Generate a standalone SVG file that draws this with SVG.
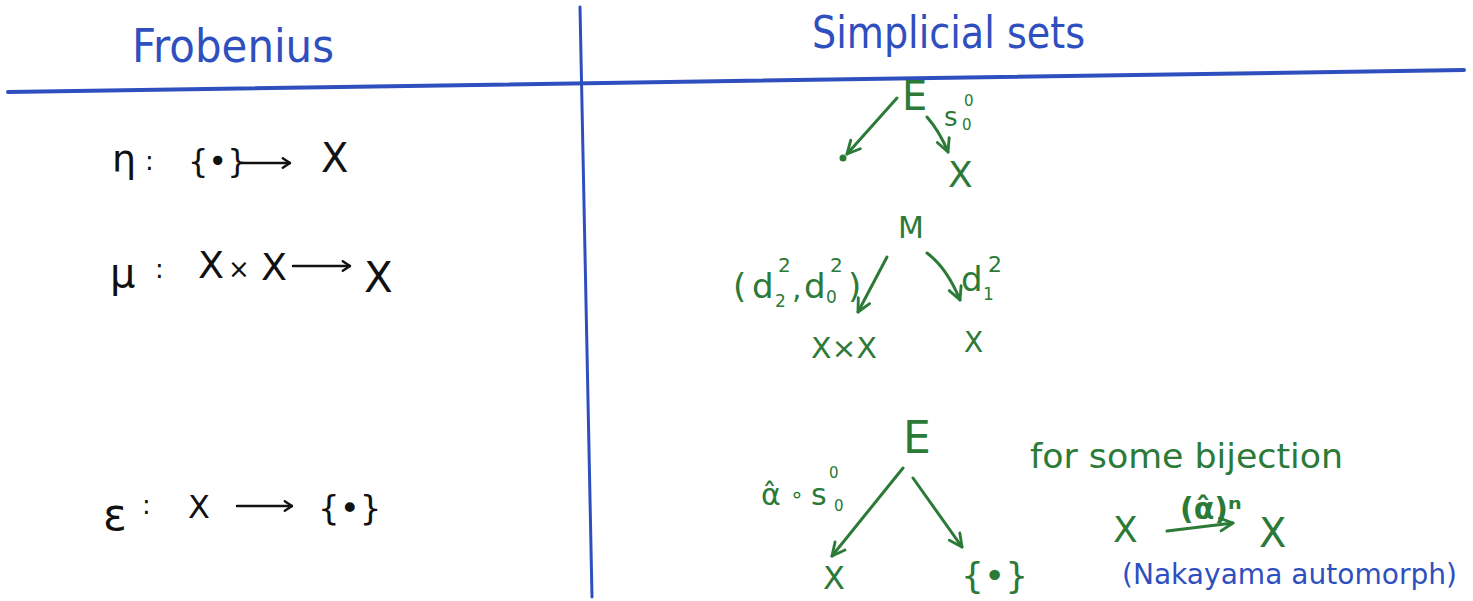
<svg xmlns="http://www.w3.org/2000/svg" width="1473" height="601" viewBox="0 0 1473 601">
<style>
  .bl { fill: #2f4fbf; font-family: "DejaVu Sans", "Liberation Sans", sans-serif; }
  .k { fill: #111111; font-family: "DejaVu Sans", "Liberation Sans", sans-serif; }
  .g { fill: #2b7a37; font-family: "DejaVu Sans", "Liberation Sans", sans-serif; }
  .rule { stroke: #2f4fbf; fill: none; stroke-linecap: round; }
  .cg { stroke: #2b7a37; stroke-width: 3; fill: none; stroke-linecap: round; }
  .ck { stroke: #111111; stroke-width: 2.5; fill: none; stroke-linecap: round; }
</style>
<defs>
  <marker id="ag" viewBox="0 0 10 10" refX="9" refY="5" markerWidth="16" markerHeight="16" markerUnits="userSpaceOnUse" orient="auto">
    <path d="M1,1 L9,5 L1,9" fill="none" stroke="#2b7a37" stroke-width="1.8" stroke-linecap="round" stroke-linejoin="round"/>
  </marker>
  <marker id="ak" viewBox="0 0 10 10" refX="9" refY="5" markerWidth="12" markerHeight="12" markerUnits="userSpaceOnUse" orient="auto">
    <path d="M3,1 L9,5 L3,9" fill="none" stroke="#111111" stroke-width="2" stroke-linecap="round" stroke-linejoin="round"/>
  </marker>
</defs>
<rect width="1473" height="601" fill="#ffffff"/>

<g id="table-rules">
  <line class="rule" x1="8" y1="92" x2="1464" y2="70" stroke-width="4"/>
  <line class="rule" x1="580" y1="7" x2="592" y2="597" stroke-width="3"/>
</g>

<g id="header-frobenius">
  <text class="bl" x="132" y="62" font-size="46" textLength="202" lengthAdjust="spacingAndGlyphs">Frobenius</text>
</g>
<g id="header-simplicial">
  <text class="bl" x="812" y="48" font-size="44" textLength="273" lengthAdjust="spacingAndGlyphs">Simplicial sets</text>
</g>

<g id="connectors">
  <line class="ck" x1="242" y1="163" x2="290" y2="163" marker-end="url(#ak)"/>
  <line class="ck" x1="293" y1="266" x2="350" y2="266" marker-end="url(#ak)"/>
  <line class="ck" x1="237" y1="506" x2="292" y2="506" marker-end="url(#ak)"/>
  <line class="cg" x1="897" y1="98" x2="847" y2="154" marker-end="url(#ag)"/>
  <path class="cg" d="M927,117 Q940,132 948,152" marker-end="url(#ag)"/>
  <path class="cg" d="M887,257 L858,312" marker-end="url(#ag)"/>
  <path class="cg" d="M927,253 Q947,268 960,300" marker-end="url(#ag)"/>
  <line class="cg" x1="903" y1="468" x2="832" y2="556" marker-end="url(#ag)"/>
  <line class="cg" x1="913" y1="478" x2="962" y2="547" marker-end="url(#ag)"/>
  <line class="cg" x1="1167" y1="531" x2="1233" y2="523" marker-end="url(#ag)"/>
</g>

<g id="frob-eta">
  <text class="k" x="112" y="172" font-size="38">η</text>
  <text class="k" x="145" y="170" font-size="26">:</text>
  <text class="k" x="188" y="172" font-size="32">{•}</text>
  <text class="k" x="321" y="172" font-size="40">X</text>
</g>
<g id="frob-mu">
  <text class="k" x="110" y="287" font-size="40">μ</text>
  <text class="k" x="155" y="278" font-size="26">:</text>
  <text class="k" x="198" y="278" font-size="38">X</text>
  <text class="k" x="228" y="278" font-size="26">×</text>
  <text class="k" x="261" y="280" font-size="38">X</text>
  <text class="k" x="364" y="292" font-size="42">X</text>
</g>
<g id="frob-epsilon">
  <text class="k" x="103" y="530" font-size="44">ε</text>
  <text class="k" x="142" y="514" font-size="26">:</text>
  <text class="k" x="188" y="518" font-size="32">X</text>
  <text class="k" x="318" y="520" font-size="34">{•}</text>
</g>

<g id="simp-unit">
  <text class="g" x="902" y="110" font-size="40">E</text>
  <circle cx="843" cy="158" r="3.5" fill="#2b7a37"/>
  <text class="g" x="944" y="126" font-size="26">s</text>
  <text class="g" x="962" y="130" font-size="15">0</text>
  <text class="g" x="964" y="106" font-size="15">0</text>
  <text class="g" x="948" y="187" font-size="36">X</text>
</g>

<g id="simp-mult">
  <text class="g" x="898" y="238" font-size="30">M</text>
  <text class="g" x="733" y="298" font-size="34">(</text>
  <text class="g" x="752" y="298" font-size="34">d</text>
  <text class="g" x="775" y="307" font-size="17">2</text>
  <text class="g" x="778" y="272" font-size="20">2</text>
  <text class="g" x="792" y="298" font-size="30">,</text>
  <text class="g" x="804" y="298" font-size="34">d</text>
  <text class="g" x="826" y="303" font-size="17">0</text>
  <text class="g" x="830" y="272" font-size="20">2</text>
  <text class="g" x="848" y="298" font-size="34">)</text>
  <text class="g" x="961" y="291" font-size="34">d</text>
  <text class="g" x="983" y="300" font-size="17">1</text>
  <text class="g" x="988" y="272" font-size="22">2</text>
  <text class="g" x="811" y="358" font-size="28" textLength="66" lengthAdjust="spacingAndGlyphs">X×X</text>
  <text class="g" x="964" y="352" font-size="28">X</text>
</g>

<g id="simp-counit">
  <text class="g" x="903" y="453" font-size="44">E</text>
  <text class="g" x="761" y="505" font-size="30">α̂</text>
  <text class="g" x="790" y="502" font-size="22">∘</text>
  <text class="g" x="811" y="505" font-size="30">s</text>
  <text class="g" x="829" y="478" font-size="15">0</text>
  <text class="g" x="834" y="511" font-size="15">0</text>
  <text class="g" x="823" y="589" font-size="32">X</text>
  <text class="g" x="961" y="588" font-size="36">{•}</text>
</g>

<g id="simp-bijection">
  <text class="g" x="1030" y="468" font-size="34" textLength="313" lengthAdjust="spacingAndGlyphs">for some bijection</text>
  <text class="g" x="1113" y="542" font-size="36">X</text>
  <text class="g" x="1180" y="519" font-size="30" font-weight="bold">(α̂)ⁿ</text>
  <text class="g" x="1259" y="547" font-size="40">X</text>
</g>

<g id="nakayama">
  <text class="bl" x="1122" y="584" font-size="28" textLength="335" lengthAdjust="spacingAndGlyphs">(Nakayama automorph)</text>
</g>
</svg>
